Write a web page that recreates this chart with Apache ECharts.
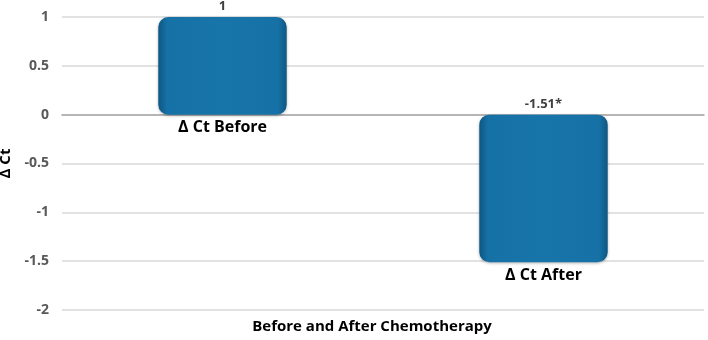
<!DOCTYPE html>
<html>
<head>
<meta charset="utf-8">
<script src="https://cdn.jsdelivr.net/npm/echarts@6/dist/echarts.min.js"></script>
<style>
  html, body { margin: 0; padding: 0; background: #fff; }
  #chart { width: 708px; height: 340px; }
</style>
</head>
<body>
<div id="chart"></div>
<script>
const categories = ['Δ Ct Before', 'Δ Ct After'];
const values = [1, -1.51];
const valueLabels = ['1', '-1.51*'];
const yTicks = { min: -2, max: 1, interval: 0.5 };

const chart = echarts.init(document.getElementById('chart'));
const font = '"Open Sans", sans-serif';

// bar fill: darker edges, lighter middle (bevel look)
const barFill = new echarts.graphic.LinearGradient(0, 0, 1, 0, [
  { offset: 0, color: '#0e5783' },
  { offset: 0.07, color: '#1672a6' },
  { offset: 0.5, color: '#1875a9' },
  { offset: 0.93, color: '#1672a6' },
  { offset: 1, color: '#0e5783' }
]);

chart.setOption({
  animation: false,
  grid: { left: 62, right: 4, top: 17, bottom: 30, containLabel: false, outerBoundsMode: 'none' },
  xAxis: {
    type: 'category',
    data: categories,
    axisLine: { show: true, onZero: true, lineStyle: { color: '#a6a6a6', width: 1.5 } },
    axisTick: { show: false },
    axisLabel: { show: false }
  },
  yAxis: {
    type: 'value',
    min: yTicks.min,
    max: yTicks.max,
    interval: yTicks.interval,
    name: 'Δ Ct',
    nameLocation: 'middle',
    nameRotate: 90,
    nameGap: 44,
    nameTextStyle: { fontFamily: font, fontWeight: 'bold', fontSize: 15, color: '#000' },
    axisLine: { show: false },
    axisTick: { show: false },
    axisLabel: { fontFamily: font, fontWeight: 'bold', fontSize: 14, color: '#595959', margin: 13 },
    splitLine: { lineStyle: { color: '#d9d9d9', width: 1.5 } }
  },
  series: [
    {
      type: 'bar',
      data: values,
      barWidth: '40%',
      itemStyle: {
        color: barFill,
        borderRadius: 10,
        shadowBlur: 3,
        shadowColor: 'rgba(0,0,0,0.3)',
        shadowOffsetY: 1
      },
      label: {
        show: true,
        position: 'top',
        distance: 4,
        fontFamily: font,
        fontWeight: 'bold',
        fontSize: 13,
        color: '#404040',
        formatter: p => valueLabels[p.dataIndex]
      },
      z: 3
    },
    {
      // invisible twin to place category names under each bar's lower end
      type: 'bar',
      data: values,
      barWidth: '40%',
      barGap: '-100%',
      itemStyle: { color: 'rgba(0,0,0,0)' },
      label: {
        show: true,
        position: 'bottom',
        distance: 5,
        fontFamily: font,
        fontWeight: 'bold',
        fontSize: 16,
        color: '#000',
        formatter: p => categories[p.dataIndex]
      },
      silent: true,
      z: 4
    }
  ],
  graphic: [
    {
      type: 'text',
      x: 372,
      y: 327,
      style: {
        text: 'Before and After Chemotherapy',
        fontFamily: font,
        fontWeight: 'bold',
        fontSize: 15,
        fill: '#000',
        align: 'center',
        verticalAlign: 'middle'
      }
    }
  ]
});

window.addEventListener('resize', chart.resize);
</script>
</body>
</html>
